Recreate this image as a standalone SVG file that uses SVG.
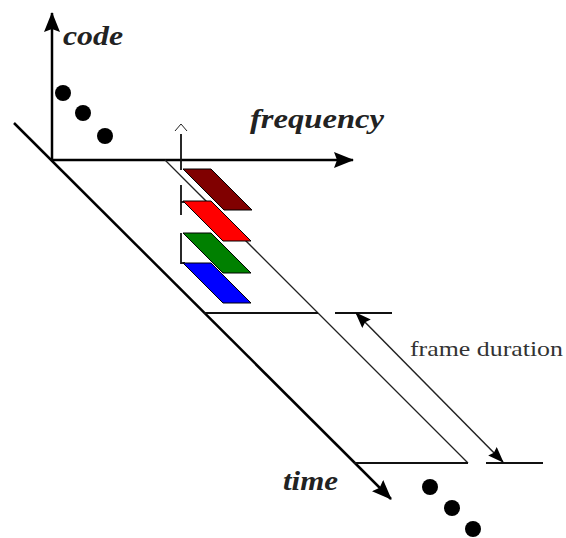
<svg xmlns="http://www.w3.org/2000/svg" width="566" height="538" viewBox="0 0 566 538">
<style>
.axis{stroke:#000;stroke-width:2.5;fill:none}
.thin{stroke:#222;stroke-width:1.3;fill:none}
.mid{stroke:#111;stroke-width:1.8;fill:none}
.dot{fill:#000}
.lbl{font-family:'Liberation Serif','Times New Roman',Times,serif;font-weight:bold;font-style:italic;font-size:28px;fill:#222}
.plain{font-family:'Liberation Serif','Times New Roman',Times,serif;font-size:21px;fill:#333}
.blk{stroke:#000;stroke-width:1}
</style>
<defs>
<marker id="big" markerWidth="20" markerHeight="16" refX="19" refY="8" orient="auto-start-reverse" markerUnits="userSpaceOnUse" viewBox="0 0 20 16">
<path d="M0,0 L20,8 L0,16 L3,8 Z" fill="#000"/>
</marker>
<marker id="med" markerWidth="16" markerHeight="12" refX="15" refY="6" orient="auto-start-reverse" markerUnits="userSpaceOnUse" viewBox="0 0 16 12">
<path d="M0,0 L16,6 L0,12 L2,6 Z" fill="#000"/>
</marker>
</defs>
<g id="connectors">
<line class="axis" x1="52" y1="160" x2="52" y2="13" marker-end="url(#big)"/>
<line class="axis" x1="52" y1="160" x2="353" y2="160" marker-end="url(#big)"/>
<line class="axis" x1="14" y1="123" x2="391" y2="499" marker-end="url(#big)"/>
<line class="thin" x1="165" y1="160" x2="468" y2="463"/>
<line class="mid" x1="204" y1="313" x2="318" y2="313"/>
<line class="mid" x1="354" y1="463" x2="468" y2="463"/>
<line class="mid" x1="335" y1="313" x2="392" y2="313"/>
<line class="mid" x1="486" y1="463" x2="543" y2="463"/>
<line class="thin" x1="356" y1="313" x2="503" y2="462" marker-start="url(#med)" marker-end="url(#med)" style="stroke-width:1.5"/>
</g>
<g id="marker-tick">
<polyline class="thin" points="175,131 181,124 187,131" style="stroke-width:1"/>
<line class="mid" x1="181" y1="134" x2="181" y2="170"/>
<line class="mid" x1="181" y1="185" x2="181" y2="215"/>
<line class="mid" x1="181" y1="202" x2="185" y2="202"/>
<line class="mid" x1="181" y1="233" x2="181" y2="264"/>
<line class="mid" x1="181" y1="263" x2="185" y2="263"/>
</g>
<g id="code-darkred"><polygon class="blk" points="183,169 211,169 252,210 224,210" fill="#800000"/></g>
<g id="code-red"><polygon class="blk" points="183,201 211,201 251,241 223,241" fill="#ff0000"/></g>
<g id="code-green"><polygon class="blk" points="183,233 211,233 251,273 223,273" fill="#008000"/></g>
<g id="code-blue"><polygon class="blk" points="183,263 211,263 251,303 223,303" fill="#0000ff"/></g>
<g id="dots-code">
<circle class="dot" cx="63" cy="93" r="8"/>
<circle class="dot" cx="83" cy="113" r="8"/>
<circle class="dot" cx="105" cy="136" r="8"/>
</g>
<g id="dots-time">
<circle class="dot" cx="430" cy="487" r="8"/>
<circle class="dot" cx="452" cy="508" r="8"/>
<circle class="dot" cx="473" cy="529" r="8"/>
</g>
<g id="labels">
<text class="lbl" font-family="Liberation Serif" x="63" y="45" textLength="60" lengthAdjust="spacingAndGlyphs">code</text>
<text class="lbl" font-family="Liberation Serif" x="250" y="128" textLength="134" lengthAdjust="spacingAndGlyphs">frequency</text>
<text class="lbl" font-family="Liberation Serif" x="283" y="490" textLength="55" lengthAdjust="spacingAndGlyphs">time</text>
<text class="plain" font-family="Liberation Serif" x="410" y="356" textLength="153" lengthAdjust="spacingAndGlyphs">frame duration</text>
</g>
</svg>
